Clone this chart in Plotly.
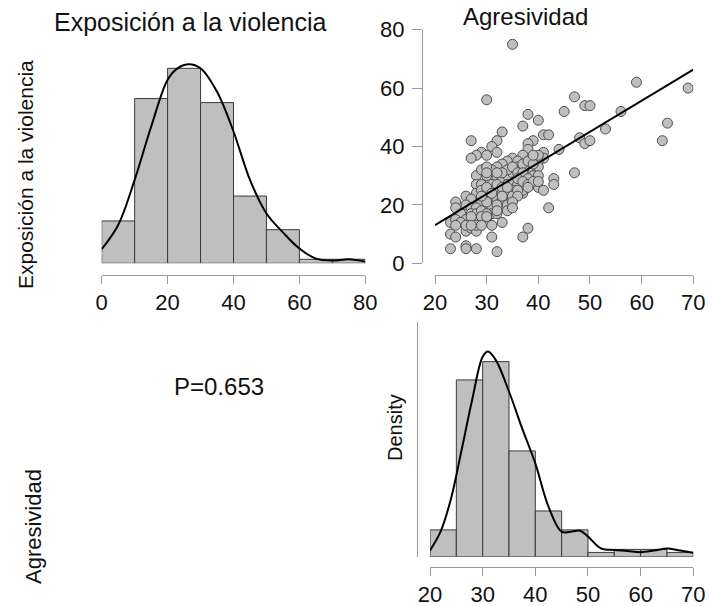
import plotly.graph_objects as go

W, H = 709, 606

# ---------------- data ----------------
# scatter: x = Agresividad, y = Exposición a la violencia
agresividad = [
    35, 59, 69, 30, 47, 49, 50, 45, 56, 38, 40, 37, 65, 53, 33, 27, 32, 41, 42, 48,
    64, 49, 50, 39, 38, 31, 29, 30, 28, 27, 32, 38, 37, 44, 41, 41, 40, 35, 36, 34,
    33, 47, 43, 43, 40, 41, 42, 37, 26, 24, 24, 23, 24, 31, 38, 37, 23, 26, 26, 28,
    32,
    28, 30, 32, 33, 34, 35, 36, 37,
    28, 29, 31, 32, 34, 35, 36,
    28, 29, 30, 32, 33, 34, 35, 37,
    27, 29, 31, 32, 33, 35,
    26, 27, 28, 30, 31, 33, 34, 34,
    25, 27, 28, 29, 31, 32, 33,
    23, 24, 26, 27, 28, 30, 31,
    26, 27, 28,
    32, 31, 36, 38, 39, 40, 29, 30, 34, 35, 37, 38, 39, 36, 33, 30, 32, 37, 39, 38,
    40, 36, 37, 38, 39, 40, 36, 38, 33, 30, 34, 31, 36, 30, 32, 29, 33, 35, 35, 32,
    30, 29, 27, 30, 28, 29, 25, 26, 24, 27, 40, 39,
]
exposicion = [
    75, 62, 60, 56, 57, 54, 54, 52, 52, 51, 49, 47, 48, 46, 45, 42, 42, 44, 44, 43,
    42, 41, 42, 42, 41, 40, 38, 37, 37, 36, 38, 39, 37, 39, 38, 36, 35, 36, 35, 35,
    34, 31, 29, 27, 26, 25, 19, 24, 23, 21, 19, 10, 9, 9, 12, 9, 5, 6, 5, 5,
    4,
    30, 30, 29, 29, 30, 31, 32, 33,
    27, 27, 27, 27, 27, 27, 27,
    24, 25, 24, 24, 24, 24, 25, 25,
    22, 21, 22, 22, 22, 23,
    20, 19, 19, 19, 19, 20, 20, 18,
    17, 17, 17, 18, 17, 17, 14,
    14, 15, 15, 14, 15, 15, 13,
    11, 12, 11,
    33, 32, 33, 32, 32, 33, 32, 33, 32, 33, 34, 35, 34, 31, 31, 31, 31, 31, 30, 29,
    30, 29, 28, 27, 28, 28, 25, 26, 26, 26, 26, 24, 23, 21, 20, 23, 23, 21, 19, 18,
    17, 16, 16, 16, 13, 13, 14, 13, 13, 13, 37, 37,
]
fit_intercept = -8.18
fit_slope = 1.064
corr_label = "P=0.653"

expo_bin_edges = [0, 10, 20, 30, 40, 50, 60, 70, 80]
expo_density = [0.0063, 0.0245, 0.0290, 0.0239, 0.0100, 0.0050, 0.0006, 0.0006]
expo_kde_x = [0, 5, 10, 15, 20, 23, 26.5, 30, 35, 40, 45, 50, 55, 60, 65, 70, 75, 80]
expo_kde_y = [0.0021, 0.0057, 0.0124, 0.0203, 0.0273, 0.0290, 0.0296, 0.0290, 0.0255,
              0.0196, 0.0124, 0.0074, 0.0046, 0.0022, 0.0007, 0.0004, 0.0006, 0.00025]

agre_bin_edges = [20, 25, 30, 35, 40, 45, 50, 55, 60, 65, 70]
agre_density = [0.0088, 0.0580, 0.0640, 0.0347, 0.0150, 0.0088, 0.0014, 0.0024, 0.0024, 0.0014]
agre_kde_x = [20, 22, 24, 26, 28, 30, 31, 32.5, 35, 37.5, 40, 42.5, 45, 47, 48.5, 50,
              52.5, 55, 57.5, 60, 62.5, 65, 67.5, 70]
agre_kde_y = [0.0020, 0.0082, 0.0191, 0.0350, 0.0514, 0.0656, 0.0673, 0.0645, 0.0542,
              0.0421, 0.0306, 0.0164, 0.0082, 0.0083, 0.0085, 0.0066, 0.0027, 0.0022,
              0.0019, 0.0015, 0.0020, 0.0027, 0.0020, 0.0013]

expo_ticks = [0, 20, 40, 60, 80]
agre_ticks = [20, 30, 40, 50, 60, 70]
scatter_yticks = [0, 20, 40, 60, 80]

# ---------------- styling ----------------
FONT = "Liberation Sans, Arial, sans-serif"
BAR_FILL = "#bfbfbf"
BAR_LINE = "#3a3a3a"
AXIS_COL = "#9a9a9a"


def fx(p):
    return p / W


def fy(p):
    return 1 - p / H


fig = go.Figure()

# top-left histogram (Exposición)
centers = [(a + b) / 2 for a, b in zip(expo_bin_edges[:-1], expo_bin_edges[1:])]
widths = [b - a for a, b in zip(expo_bin_edges[:-1], expo_bin_edges[1:])]
fig.add_trace(go.Bar(x=centers, y=expo_density, width=widths,
                     marker=dict(color=BAR_FILL, line=dict(color=BAR_LINE, width=1)),
                     xaxis="x2", yaxis="y2", showlegend=False))
fig.add_trace(go.Scatter(x=expo_kde_x, y=expo_kde_y, mode="lines",
                         line=dict(color="black", width=2, shape="spline"),
                         xaxis="x2", yaxis="y2", showlegend=False))

# scatter
fig.add_trace(go.Scatter(x=agresividad, y=exposicion, mode="markers",
                         marker=dict(size=10, color="#bfbfbf",
                                     line=dict(color="#4d4d4d", width=1)),
                         xaxis="x", yaxis="y", showlegend=False))
line_x = [agre_ticks[0], agre_ticks[-1]]
line_y = [fit_intercept + fit_slope * v for v in line_x]
fig.add_trace(go.Scatter(x=line_x, y=line_y, mode="lines",
                         line=dict(color="black", width=2),
                         xaxis="x", yaxis="y", showlegend=False))

# bottom-right histogram (Agresividad)
centers = [(a + b) / 2 for a, b in zip(agre_bin_edges[:-1], agre_bin_edges[1:])]
widths = [b - a for a, b in zip(agre_bin_edges[:-1], agre_bin_edges[1:])]
fig.add_trace(go.Bar(x=centers, y=agre_density, width=widths,
                     marker=dict(color=BAR_FILL, line=dict(color=BAR_LINE, width=1)),
                     xaxis="x3", yaxis="y3", showlegend=False))
fig.add_trace(go.Scatter(x=agre_kde_x, y=agre_kde_y, mode="lines",
                         line=dict(color="black", width=2, shape="spline"),
                         xaxis="x3", yaxis="y3", showlegend=False))

tickfont = dict(family=FONT, size=22, color="#111")
common_x = dict(showgrid=False, zeroline=False, showline=True, linecolor=AXIS_COL,
                linewidth=1, ticks="outside", ticklen=8, tickcolor=AXIS_COL,
                tickwidth=1, tickfont=tickfont, anchor="free", fixedrange=True,
                automargin=False)

fig.update_layout(
    width=W, height=H, autosize=False,
    margin=dict(l=0, r=0, t=0, b=0, pad=0, autoexpand=False),
    paper_bgcolor="white", plot_bgcolor="rgba(0,0,0,0)",
    barmode="overlay", showlegend=False,
    font=dict(family=FONT, color="#111"),
    # scatter
    xaxis=dict(domain=[fx(435), fx(693.3)], range=[20, 70], tickvals=agre_ticks,
               position=fy(275), **common_x),
    yaxis=dict(domain=[fy(263.3), fy(29.7)], range=[0, 80], tickvals=scatter_yticks,
               anchor="free", position=fx(422), side="left",
               showgrid=False, zeroline=False, showline=True, linecolor=AXIS_COL,
               ticks="outside", ticklen=10, tickcolor=AXIS_COL, tickfont=tickfont,
               ticklabelstandoff=3, fixedrange=True, automargin=False),
    # top-left histogram
    xaxis2=dict(domain=[fx(101.7), fx(365.3)], range=[0, 80], tickvals=expo_ticks,
                position=fy(275), **common_x),
    yaxis2=dict(domain=[fy(263.3), fy(29.7)], range=[0, 0.03474], visible=False,
                anchor="x2", fixedrange=True, automargin=False),
    # bottom-right histogram
    xaxis3=dict(domain=[fx(430), fx(693.3)], range=[20, 70], tickvals=agre_ticks,
                position=fy(567), **common_x),
    yaxis3=dict(domain=[fy(556.7), fy(322)], range=[0, 0.077], anchor="free",
                position=fx(416.7), showline=True, linecolor=AXIS_COL, ticks="",
                showticklabels=False, showgrid=False, zeroline=False, fixedrange=True,
                automargin=False),
)

ann = dict(xref="paper", yref="paper", showarrow=False, xanchor="center",
           yanchor="middle")
fig.add_annotation(text="Exposición a la violencia", x=fx(190), y=fy(22),
                   font=dict(family=FONT, size=25, color="#111"), **ann)
fig.add_annotation(text="Agresividad", x=fx(525), y=fy(17),
                   font=dict(family=FONT, size=24, color="#111"), **ann)
fig.add_annotation(text="Exposición a la violencia", x=fx(25), y=fy(175), textangle=-90,
                   font=dict(family=FONT, size=21, color="#111"), **ann)
fig.add_annotation(text="Agresividad", x=fx(33), y=fy(527), textangle=-90,
                   font=dict(family=FONT, size=22, color="#111"), **ann)
fig.add_annotation(text=corr_label, x=fx(219), y=fy(386),
                   font=dict(family=FONT, size=24, color="#111"), **ann)
fig.add_annotation(text="Density", x=fx(395), y=fy(428), textangle=-90,
                   font=dict(family=FONT, size=20, color="#111"), **ann)

fig.write_html("out.html", config={"displayModeBar": False},
               post_script="document.body.style.margin='0';document.body.style.overflow='hidden';")
